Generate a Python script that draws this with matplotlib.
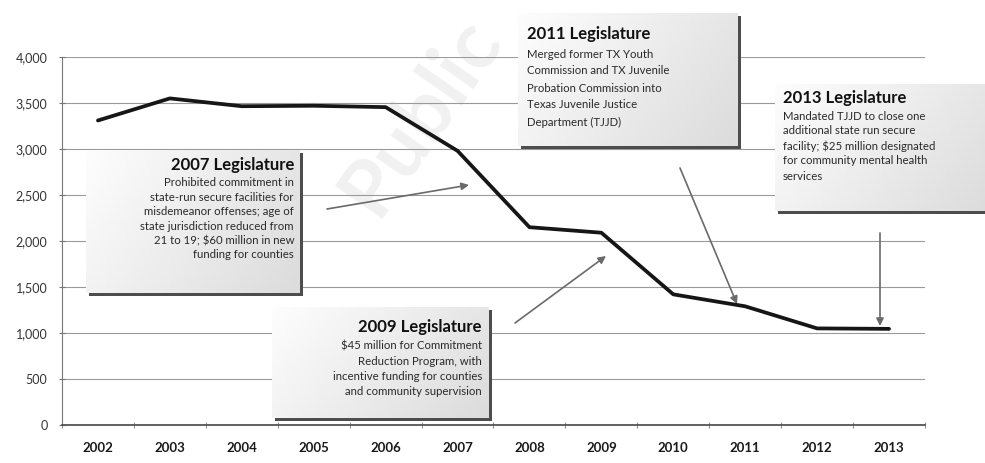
import matplotlib.pyplot as plt
import numpy as np
from matplotlib.patches import Rectangle
from matplotlib.colors import LinearSegmentedColormap
from matplotlib.ticker import FuncFormatter

# juveniles in state-run secure facilities, by year
years = ['2002', '2003', '2004', '2005', '2006', '2007',
         '2008', '2009', '2010', '2011', '2012', '2013']
population = [3310, 3550, 3465, 3470, 3455, 2980,
              2150, 2090, 1420, 1290, 1050, 1045]
y_ticks = [0, 500, 1000, 1500, 2000, 2500, 3000, 3500, 4000]

title_2007 = '2007 Legislature'
body_2007 = ['Prohibited commitment in',
             'state-run secure facilities for',
             'misdemeanor offenses; age of',
             'state jurisdiction reduced from',
             '21 to 19; \\$60 million in new',
             'funding for counties']
title_2009 = '2009 Legislature'
body_2009 = ['\\$45 million for Commitment',
             'Reduction Program, with',
             'incentive funding for counties',
             'and community supervision']
title_2011 = '2011 Legislature'
body_2011 = ['Merged former TX Youth',
             'Commission and TX Juvenile',
             'Probation Commission into',
             'Texas Juvenile Justice',
             'Department (TJJD)']
title_2013 = '2013 Legislature'
body_2013 = ['Mandated TJJD to close one',
             'additional state run secure',
             'facility; \\$25 million designated',
             'for community mental health',
             'services']

plt.rcParams['font.family'] = ['Lato', 'DejaVu Sans']

W, H = 985, 463
fig = plt.figure(figsize=(W / 100, H / 100), dpi=100)
fig.patch.set_facecolor('white')

ax = fig.add_axes([62 / W, 1 - 425 / H, 863 / W, 368 / H])
ax.patch.set_alpha(0)
x = np.arange(len(years))
ax.plot(x, population, color='#161616', lw=2.7, solid_joinstyle='round',
        solid_capstyle='round', zorder=3)
ax.set_xlim(-0.5, len(years) - 0.5)
ax.set_ylim(0, 4000)
ax.set_yticks(y_ticks)
ax.yaxis.set_major_formatter(FuncFormatter(lambda v, p: f'{int(v):,}'))
ax.set_xticks(x)
ax.set_xticklabels(years, fontweight='bold', fontsize=9.5, color='#1a1a1a')
ax.set_xticks(np.arange(-0.5, len(years)), minor=True)
ax.tick_params(axis='x', which='major', length=0, pad=12)
ax.tick_params(axis='x', which='minor', length=5, direction='inout',
               color='#777777')
ax.tick_params(axis='y', length=5, direction='inout', color='#777777',
               labelsize=9, labelcolor='#333333', pad=8)
ax.grid(axis='y', color='#9a9a9a', lw=0.8)
ax.set_axisbelow(True)
for s in ['top', 'right']:
    ax.spines[s].set_visible(False)
ax.spines['left'].set_color('#777777')
ax.spines['bottom'].set_color('#555555')
ax.spines['bottom'].set_linewidth(1.3)

# faint stamp behind the chart
bg = fig.add_axes([0, 0, 1, 1], zorder=-1)
bg.set_xlim(0, W)
bg.set_ylim(H, 0)
bg.axis('off')
bg.text(420, 115, 'Public', fontsize=58, color='#f1f1f1', rotation=55,
        ha='center', va='center', fontweight='bold')

# pixel-space layer for callouts
ov = fig.add_axes([0, 0, 1, 1], zorder=5)
ov.set_xlim(0, W)
ov.set_ylim(H, 0)
ov.axis('off')
ov.patch.set_alpha(0)

grad = LinearSegmentedColormap.from_list('g', ['#fdfdfd', '#dcdcdc'])


def callout(x0, y0, x1, y1, shadow=True):
    if shadow:
        ov.add_patch(Rectangle((x0 + 3, y0 + 3), x1 - x0, y1 - y0,
                               fc='#4d4d4d', ec='none', zorder=1))
    g = np.linspace(0, 1, 64).reshape(1, -1) * 0.7
    g = g + np.linspace(0, 0.3, 16).reshape(-1, 1)
    ov.imshow(g, cmap=grad, vmin=0, vmax=1, extent=(x0, x1, y1, y0),
              aspect='auto', zorder=2)


def lines(xp, y_title, y_first, step, title, body, ha):
    ov.text(xp, y_title, title, fontsize=12, fontweight='bold',
            color='#111111', ha=ha, va='center', zorder=4)
    for i, t in enumerate(body):
        ov.text(xp, y_first + i * step, t, fontsize=8.2, color='#2a2a2a',
                ha=ha, va='center', zorder=4)


callout(86, 150, 300, 293)
lines(294, 165, 183, 14.4, title_2007, body_2007, 'right')

callout(272, 307, 489, 418)
lines(482, 327, 346, 15.2, title_2009, body_2009, 'right')

callout(518, 13, 738, 146)
lines(527, 34, 54, 17, title_2011, body_2011, 'left')

callout(775, 84, 990, 211)
lines(783, 98, 116, 15, title_2013, body_2013, 'left')

arrows = [((327, 209), (469, 185)),
          ((515, 323), (606, 256)),
          ((680, 168), (737, 304)),
          ((880, 233), (880, 326))]
for (sx, sy), (ex, ey) in arrows:
    ov.annotate('', xy=(ex, ey), xytext=(sx, sy),
                arrowprops=dict(arrowstyle='-|>', color='#6a6a6a', lw=1.2,
                                mutation_scale=11, shrinkA=0, shrinkB=0),
                zorder=4)

fig.savefig('out.png', dpi=100)
